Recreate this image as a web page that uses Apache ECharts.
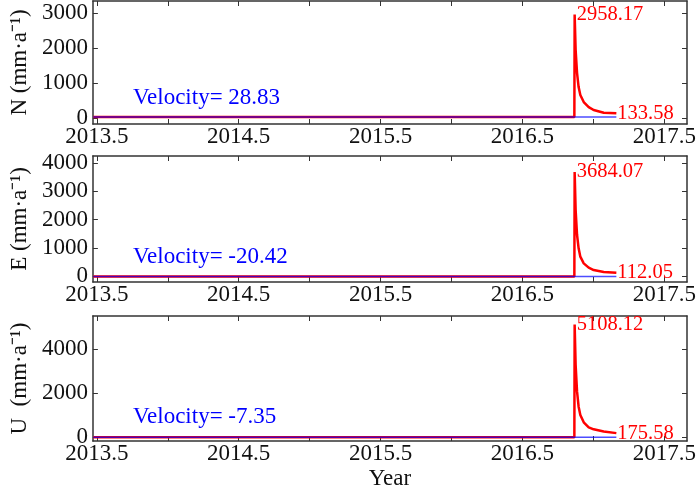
<!DOCTYPE html>
<html>
<head>
<meta charset="utf-8">
<script src="https://cdn.jsdelivr.net/npm/echarts@6/dist/echarts.min.js"></script>
<style>
html,body{margin:0;padding:0;background:#fff;}
#main{width:700px;height:492px;}
</style>
</head>
<body>
<div id="main"></div>
<script>
// time axis (decimal year), shared by the three components
var timeYears = [2013.475, 2016.866, 2016.868, 2016.875, 2016.885, 2016.896, 2016.908, 2016.932, 2016.967, 2017.002, 2017.073, 2017.162];
// rate values (mm/a)
var nRate = [28.83, 28.83, 2958.17, 1943, 1286, 886, 657, 457, 314, 229, 151, 133.58];
var eRate = [-20.42, -20.42, 3684.07, 2336, 1451, 980, 684, 448, 295, 212, 140, 112.05];
var uRate = [-7.35, -7.35, 5108.12, 3273, 2061, 1379, 1000, 667, 439, 348, 250, 175.58];
var velocities = [28.83, -20.42, -7.35];

var panelNames = ['N (mm·a⁻¹)', 'E (mm·a⁻¹)', 'U  (mm·a⁻¹)'];
var xTickValues = [2013.5, 2014, 2014.5, 2015, 2015.5, 2016, 2016.5, 2017, 2017.5];
var xLabelValues = [2013.5, 2014.5, 2015.5, 2016.5, 2017.5];
var yTickValues = [[0, 1000, 2000, 3000], [0, 1000, 2000, 3000, 4000], [0, 2000, 4000]];
var yMin = [-170, -212, -182];
var yMax = [3343, 4248, 5500];

var dom = document.getElementById('main');
var myChart = echarts.init(dom, null, {renderer: 'canvas'});
var font = "'Liberation Serif', 'Times New Roman', serif";
var lineCol = '#333';
var rates = [nRate, eRate, uRate];
var gridTops = [1, 156, 316];
var gridHeights = [123, 126, 125];
var velTops = [86, 245, 405];

var grid = [], xAxis = [], yAxis = [], series = [], graphic = [];

for (var i = 0; i < 3; i++) {
    grid.push({left: 92, right: 13, top: gridTops[i], height: gridHeights[i]});
    // bottom x axis with labels
    xAxis.push({
        type: 'value', gridIndex: i, position: 'bottom',
        min: 2013.472, max: 2017.66,
        name: i == 2 ? 'Year' : '', nameLocation: 'middle', nameGap: 26,
        nameTextStyle: {fontFamily: font, fontSize: 23, color: '#111'},
        axisLine: {onZero: false, lineStyle: {color: lineCol, width: 1.5}},
        axisTick: {inside: true, length: 5, customValues: xTickValues, lineStyle: {color: lineCol}},
        axisLabel: {customValues: xLabelValues, margin: 1, fontFamily: font, fontSize: 23, color: '#111',
            formatter: function (v) { return v.toFixed(1); }},
        splitLine: {show: false}
    });
    // top x axis, ticks only
    xAxis.push({
        type: 'value', gridIndex: i, position: 'top',
        min: 2013.472, max: 2017.66,
        axisLine: {onZero: false, lineStyle: {color: lineCol, width: 1.5}},
        axisTick: {inside: true, length: 5, customValues: xTickValues, lineStyle: {color: lineCol}},
        axisLabel: {show: false},
        splitLine: {show: false}
    });
    yAxis.push({
        type: 'value', gridIndex: i, position: 'left',
        min: yMin[i], max: yMax[i],
        name: panelNames[i], nameLocation: 'middle', nameGap: 55,
        nameTextStyle: {fontFamily: font, fontSize: 23, color: '#111'},
        axisLine: {show: true, onZero: false, lineStyle: {color: lineCol, width: 1.5}},
        axisTick: {show: true, inside: true, length: 5, customValues: yTickValues[i], lineStyle: {color: lineCol}},
        axisLabel: {customValues: yTickValues[i], margin: 5, fontFamily: font, fontSize: 23, color: '#111',
            formatter: function (v) { return String(v); }},
        splitLine: {show: false}
    });
    yAxis.push({
        type: 'value', gridIndex: i, position: 'right',
        min: yMin[i], max: yMax[i],
        axisLine: {show: true, onZero: false, lineStyle: {color: lineCol, width: 1.5}},
        axisTick: {show: true, inside: true, length: 5, customValues: yTickValues[i], lineStyle: {color: lineCol}},
        axisLabel: {show: false},
        splitLine: {show: false}
    });

    var red = [];
    for (var k = 0; k < timeYears.length; k++) {
        var item = {value: [timeYears[k], rates[i][k]]};
        if (k == 2 || k == timeYears.length - 1) {
            item.label = {
                show: true, position: 'right', distance: k == 2 ? 2 : 1,
                fontFamily: font, fontSize: 20.5, color: '#ff0000',
                formatter: function (p) { return p.value[1].toFixed(2); }
            };
        }
        red.push(item);
    }
    series.push({
        type: 'line', xAxisIndex: 2 * i, yAxisIndex: 2 * i,
        data: red, showSymbol: true, symbol: 'circle', symbolSize: 0, silent: true,
        lineStyle: {color: '#ff0000', width: 2.5}, itemStyle: {color: '#ff0000'}, z: 2
    });
    series.push({
        type: 'line', xAxisIndex: 2 * i, yAxisIndex: 2 * i,
        data: [[timeYears[0], velocities[i]], [timeYears[timeYears.length - 1], velocities[i]]],
        symbol: 'none', silent: true,
        lineStyle: {color: '#0000ff', width: 1.5, opacity: 0.7}, z: 3
    });
    graphic.push({
        type: 'text', left: 133, top: velTops[i],
        style: {text: 'Velocity= ' + velocities[i].toFixed(2), fontFamily: font, fontSize: 23, fill: '#0000ff'}
    });
}

var option = {
    backgroundColor: '#fff',
    animation: false,
    grid: grid,
    xAxis: xAxis,
    yAxis: yAxis,
    series: series,
    graphic: graphic
};
if (option && typeof option === 'object') {
    myChart.setOption(option, true);
}
</script>
</body>
</html>
